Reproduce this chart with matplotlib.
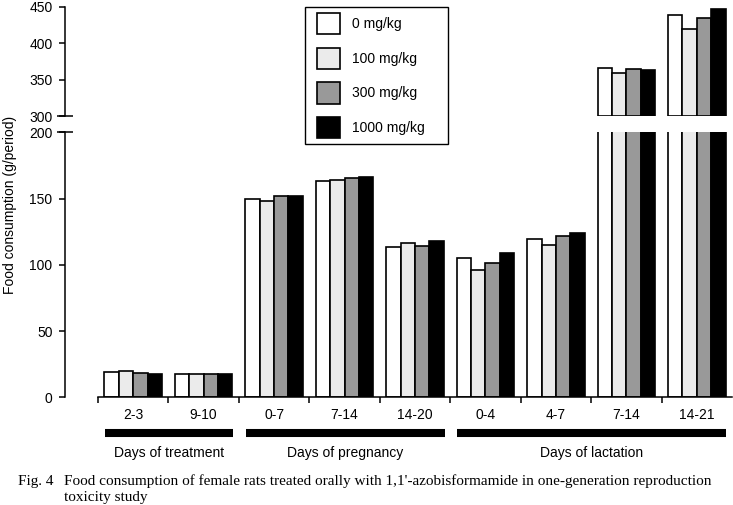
import matplotlib.pyplot as plt
from matplotlib.patches import Rectangle
import matplotlib.transforms as mtransforms
import numpy as np

# data
groups = ["2-3", "9-10", "0-7", "7-14", "14-20", "0-4", "4-7", "7-14", "14-21"]
dose_0 = [18.8, 17.8, 149.3, 163.6, 113.8, 105.0, 119.1, 366.2, 438.8]
dose_100 = [19.6, 17.8, 148.5, 163.8, 116.1, 96.0, 114.6, 358.9, 420.0]
dose_300 = [18.5, 17.6, 152.3, 165.6, 114.3, 101.5, 121.4, 364.8, 434.7]
dose_1000 = [17.6, 17.8, 151.8, 166.1, 118.0, 108.8, 124.1, 363.0, 447.0]
labels = ["0 mg/kg", "100 mg/kg", "300 mg/kg", "1000 mg/kg"]
colors = ["white", "#ebebeb", "#999999", "black"]

periods = ["Days of treatment", "Days of pregnancy", "Days of lactation"]
period_sizes = [2, 3, 4]

lo_ticks = [0, 50, 100, 150, 200]
hi_ticks = [300, 350, 400, 450]

caption1 = "Food consumption of female rats treated orally with 1,1'-azobisformamide in one-generation reproduction"
caption2 = "toxicity study"

plt.rcParams['font.family'] = ['Liberation Sans', 'DejaVu Sans']
plt.rcParams['font.size'] = 10

W, H = 733, 505
fig = plt.figure(figsize=(W / 100, H / 100), dpi=100)


def fx(px):
    return px / W


def fy(py):
    return 1 - py / H


left, right = 98, 732
ax_lo = fig.add_axes([fx(left), fy(397.3), fx(right) - fx(left), fy(132.3) - fy(397.3)])
ax_hi = fig.add_axes([fx(left), fy(116.3), fx(right) - fx(left), fy(6.8) - fy(116.3)])

x = np.arange(len(groups)) + 0.5
w = 0.204
series = [dose_0, dose_100, dose_300, dose_1000]
for k, (vals, col) in enumerate(zip(series, colors)):
    off = (k - 1.5) * w
    vals = np.array(vals)
    ax_lo.bar(x + off, vals, w, color=col, edgecolor='black', linewidth=1.2)
    m = vals > hi_ticks[0]
    ax_hi.bar(x[m] + off, vals[m] - hi_ticks[0], w, bottom=hi_ticks[0],
              color=col, edgecolor='black', linewidth=1.2)

for ax in (ax_lo, ax_hi):
    ax.set_xlim(0, len(groups))
    ax.spines['top'].set_visible(False)
    ax.spines['right'].set_visible(False)
    ax.spines['left'].set_position(('outward', 23.8))
    ax.spines['left'].set_linewidth(1.1)
    ax.yaxis.remove_overlapping_locs = False
    ax.tick_params(axis='y', which='major', length=4, width=1.1, pad=5)
    ax.tick_params(axis='y', which='minor', direction='inout', length=12, width=1.1)

ax_lo.set_ylim(0, 200)
ax_lo.set_yticks(lo_ticks)
ax_lo.set_yticks([200], minor=True)
ax_lo.spines['bottom'].set_linewidth(1.1)
ax_lo.set_xticks(np.arange(len(groups)))
ax_lo.set_xticklabels([])
ax_lo.set_xticks(x, minor=True)
ax_lo.set_xticklabels(groups, minor=True)
ax_lo.tick_params(axis='x', which='major', length=4.3, width=1.1)
ax_lo.tick_params(axis='x', which='minor', length=0, pad=8)

ax_hi.set_ylim(300, 450)
ax_hi.set_yticks(hi_ticks)
ax_hi.set_yticks([300], minor=True)
ax_hi.spines['bottom'].set_visible(False)
ax_hi.set_xticks([])

# period bars under the axis
trans = mtransforms.blended_transform_factory(ax_lo.transData, ax_lo.transAxes)
start = 0
for name, n in zip(periods, period_sizes):
    x0, x1 = start + 0.1, start + n - 0.08
    ax_lo.plot([x0, x1], [-0.1347, -0.1347], transform=trans, color='black',
               lw=5.8, solid_capstyle='butt', clip_on=False)
    ax_lo.text((x0 + x1) / 2, -0.21, name, transform=trans, ha='center', va='center')
    start += n

fig.text(fx(10), fy(205), "Food consumption (g/period)", rotation=90,
         ha='center', va='center')

handles = [Rectangle((0, 0), 1, 1, facecolor=c, edgecolor='black', lw=1.2) for c in colors]
fig.legend(handles, labels, loc='upper left', bbox_to_anchor=(fx(317), fy(13)),
           frameon=False, borderpad=0, borderaxespad=0, handlelength=1.65,
           handleheight=2.0, handletextpad=0.85, labelspacing=0.95)
fig.add_artist(Rectangle((fx(305), fy(144)), fx(448) - fx(305), fy(7) - fy(144),
                         transform=fig.transFigure, fill=False, edgecolor='black', lw=1))

serif = ['Liberation Serif', 'DejaVu Serif']
fig.text(fx(18), fy(481), "Fig. 4", family=serif, size=11, va='center')
fig.text(fx(64), fy(481), caption1, family=serif, size=11, va='center')
fig.text(fx(64), fy(497), caption2, family=serif, size=11, va='center')

fig.savefig("out.png", dpi=100)
